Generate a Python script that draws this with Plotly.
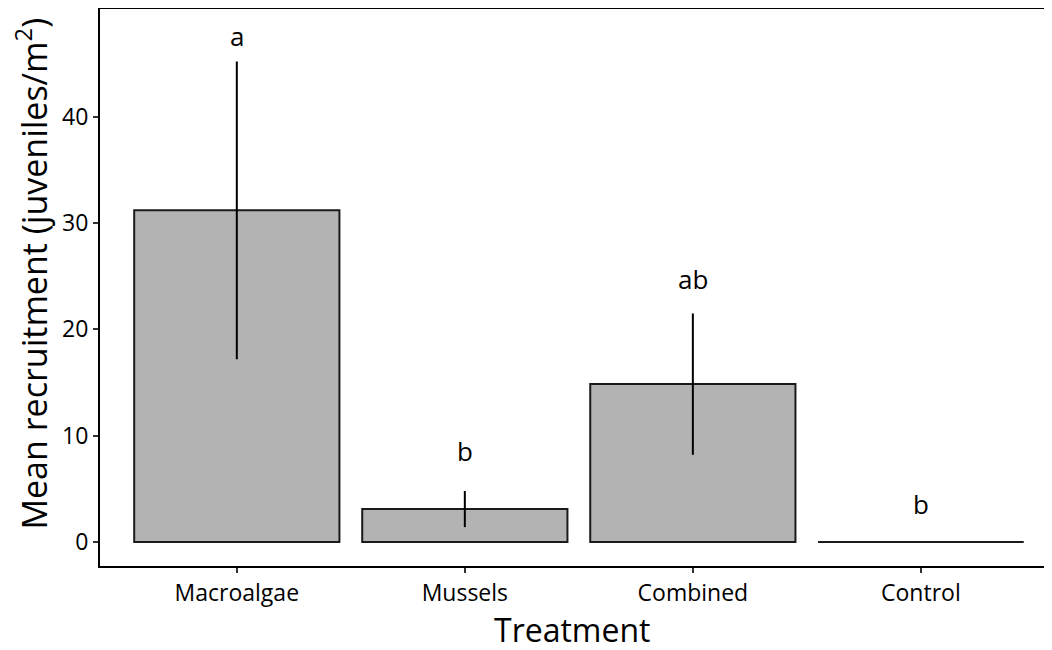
import plotly.graph_objects as go

categories = ["Macroalgae", "Mussels", "Combined", "Control"]
means = [31.2, 3.1, 14.85, 0.0]
se = [14.0, 1.7, 6.65, 0.0]
letters = ["a", "b", "ab", "b"]
letter_y = [47.6, 8.6, 24.7, 3.6]

xpos = list(range(len(categories)))
bar_w = 0.9
FONT = "Open Sans, Lato, sans-serif"

fig = go.Figure()
fig.add_trace(go.Bar(
    x=xpos, y=means, width=bar_w,
    marker=dict(color="#b3b3b3", line=dict(color="#1a1a1a", width=2)),
    error_y=dict(type="data", array=se, visible=True, color="black",
                 thickness=2, width=0),
    showlegend=False, hoverinfo="skip",
))
# zero-height bars drawn as outline line
for i, m in enumerate(means):
    if m == 0:
        fig.add_trace(go.Scatter(
            x=[i - bar_w / 2, i + bar_w / 2], y=[m, m], mode="lines",
            line=dict(color="#1a1a1a", width=2), showlegend=False, hoverinfo="skip"))

for i, (t, ly) in enumerate(zip(letters, letter_y)):
    fig.add_annotation(x=i, y=ly, text=t, showarrow=False,
                       font=dict(family=FONT, size=26, color="black"))

# axis titles
fig.add_annotation(x=0.5, y=0, xref="paper", yref="paper", text="Treatment",
                   showarrow=False, xanchor="center", yanchor="middle", yshift=-63,
                   font=dict(family=FONT, size=32, color="black"))
fig.add_annotation(x=0, y=0.525, xref="paper", yref="paper",
                   text="Mean recruitment (juveniles/m<sup>2</sup>)", textangle=-90,
                   showarrow=False, xanchor="center", yanchor="middle", xshift=-68,
                   font=dict(family=FONT, size=34, color="black"))

fig.update_layout(
    width=1036, height=634,
    margin=dict(l=92, r=0, t=1, b=76, autoexpand=False),
    plot_bgcolor="white", paper_bgcolor="white",
    bargap=0.1,
)
fig.update_xaxes(
    range=[-0.6, 3.54], tickmode="array", tickvals=xpos, ticktext=categories,
    showline=True, linecolor="black", linewidth=2, mirror=True,
    ticks="outside", ticklen=5, tickcolor="#333", tickwidth=2,
    showgrid=False, zeroline=False, automargin=False,
    tickfont=dict(family=FONT, size=23, color="black"),
)
fig.update_yaxes(
    range=[-2.26, 50.14], tickvals=[0, 10, 20, 30, 40],
    showline=True, linecolor="black", linewidth=2,
    ticks="outside", ticklen=5, tickcolor="#333", tickwidth=2,
    showgrid=False, zeroline=False, automargin=False,
    tickfont=dict(family=FONT, size=23, color="black"),
)

fig.write_html("out.html")
